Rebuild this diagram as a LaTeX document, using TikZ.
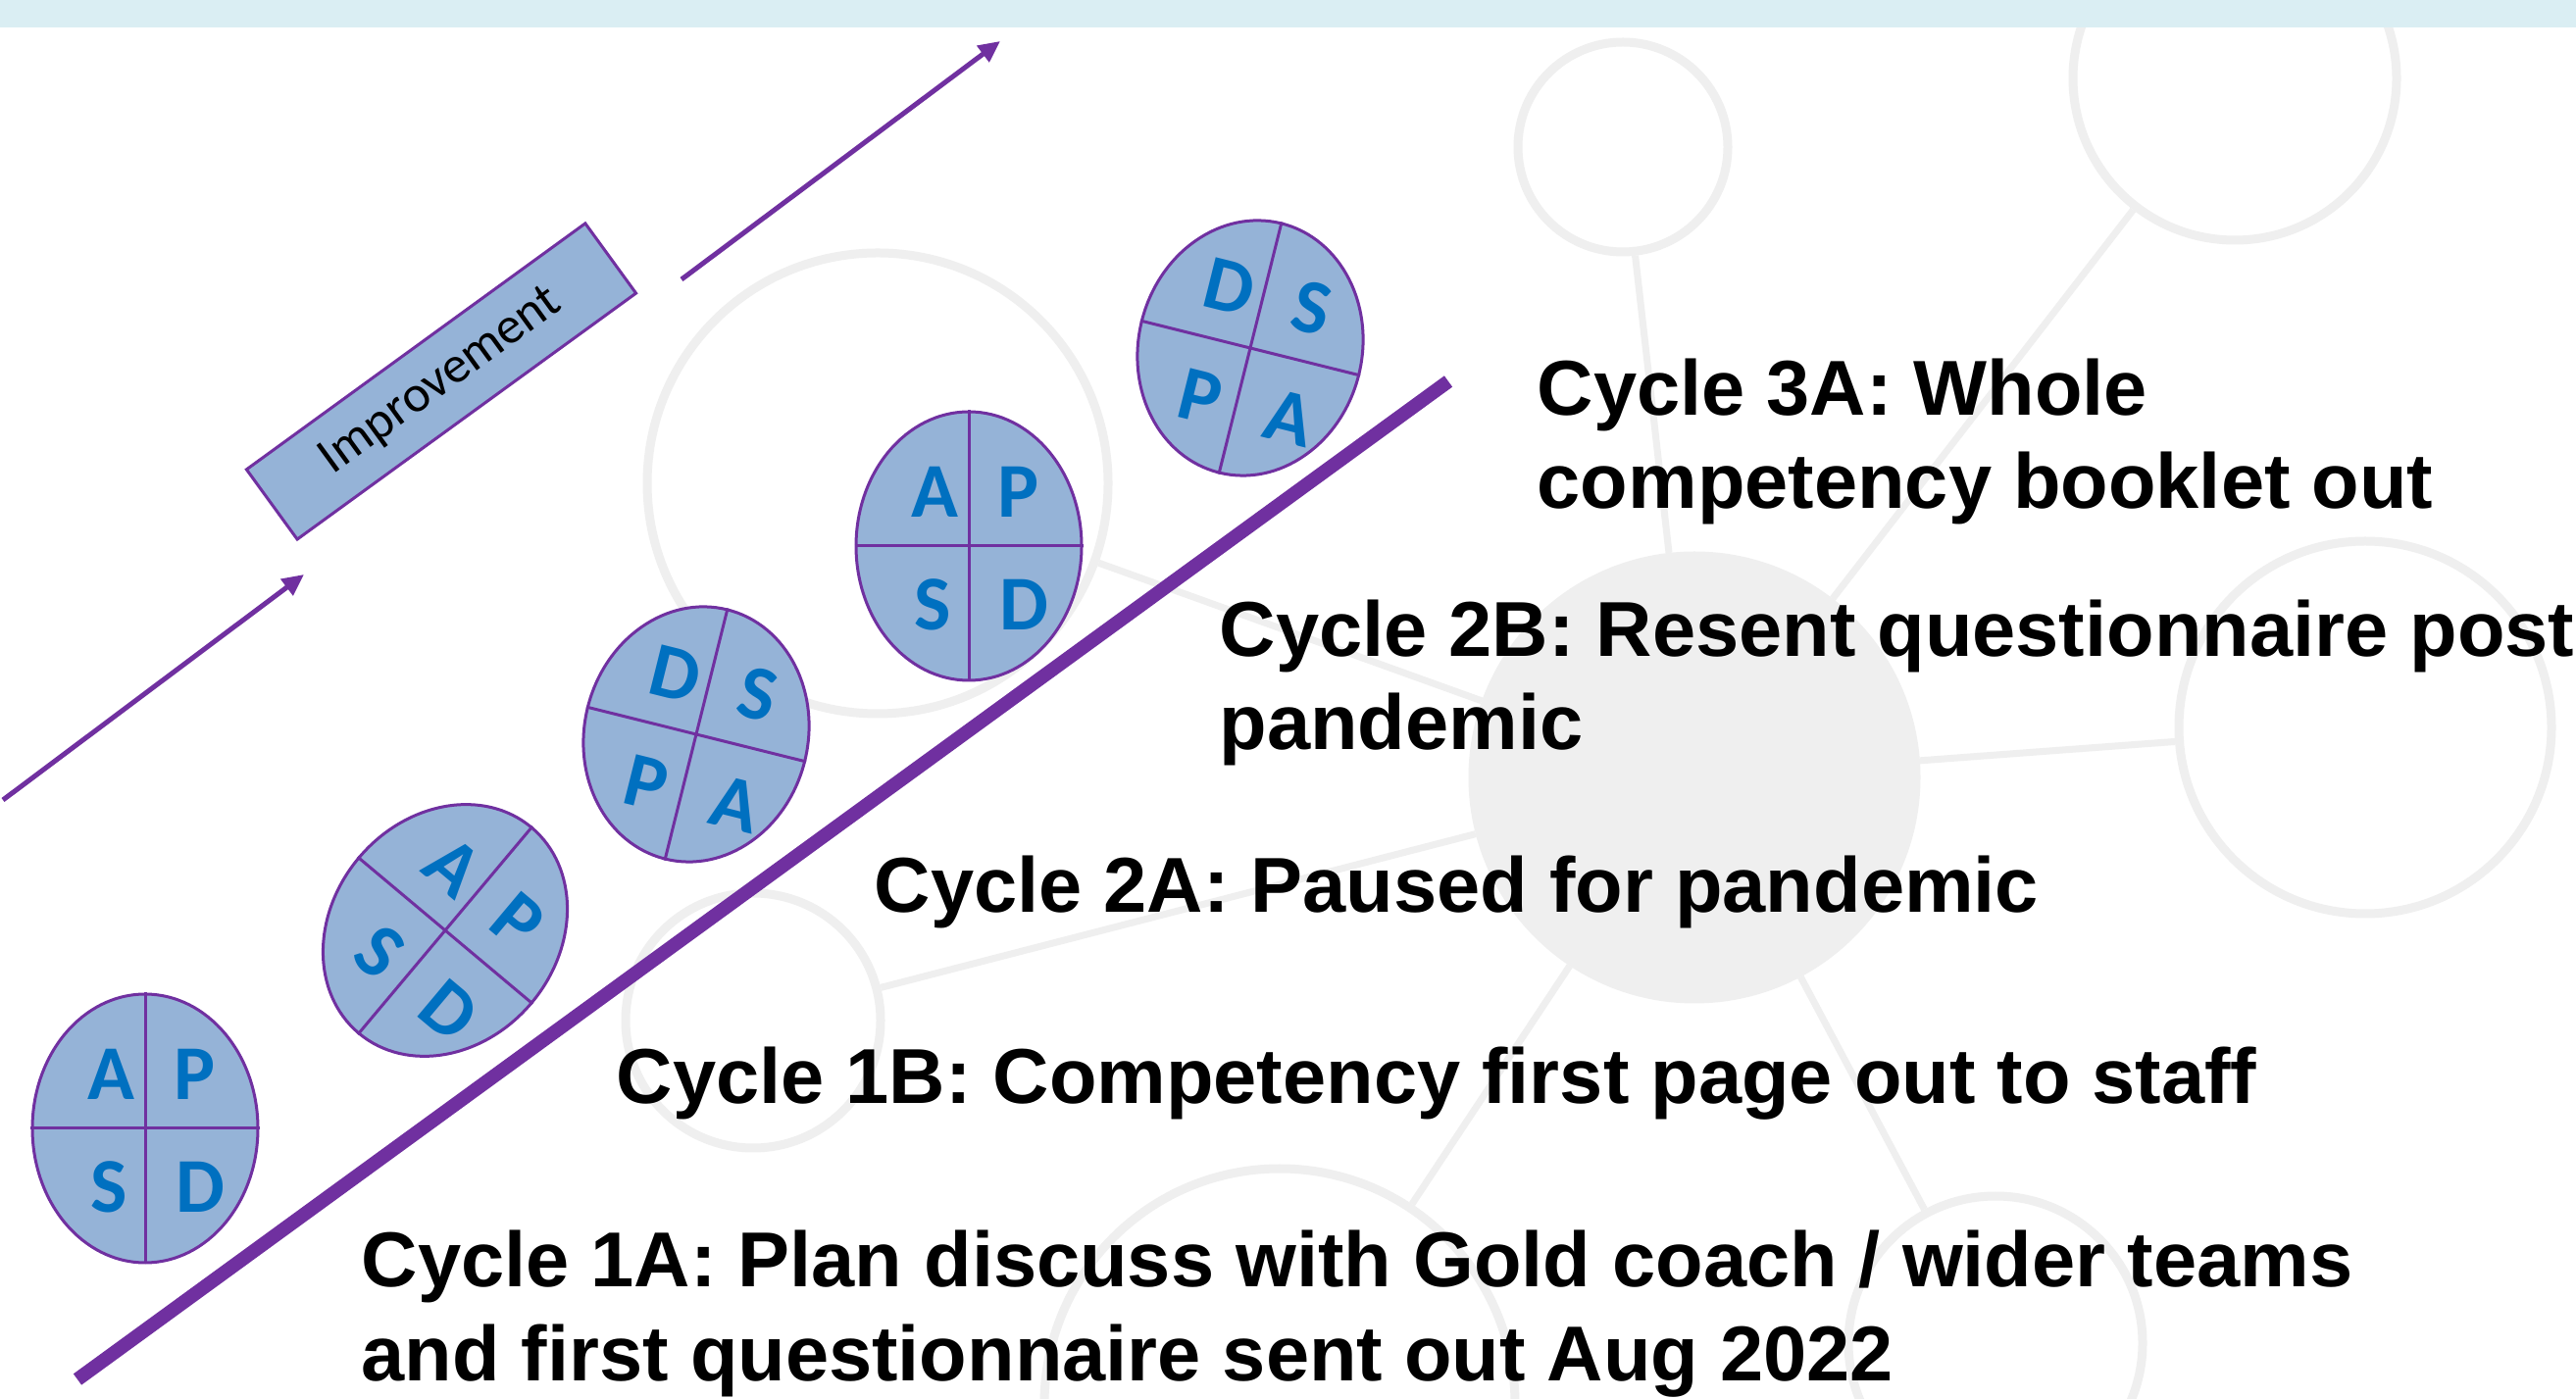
\documentclass[tikz,border=0pt]{standalone}
\usepackage{fontspec}
\setmainfont{Liberation Sans}
\newfontfamily\calibri{Carlito}
\usetikzlibrary{arrows.meta,shapes.geometric,positioning}

\definecolor{cyclepurple}{HTML}{7030A0}
\definecolor{cyclefill}{HTML}{95B3D7}
\definecolor{letterblue}{HTML}{0070C0}
\definecolor{bandblue}{HTML}{DAEEF3}
\definecolor{netgrey}{HTML}{EFEFEF}

% one PDSA disc: [options] name, centre, turn, four letters
\newcommand{\pdsacycle}[8][]{%
	\begin{scope}[shift={(#3)}, rotate=#4, transform shape]
		\node [pdsa, #1] (#2) at (0,0) {};
		\draw [divider] (#2.north) -- (#2.south);
		\draw [divider] (#2.west) -- (#2.east);
		\node [letter] (#2-tl) at (-0.35,0.55) {#5};
		\node [letter] (#2-tr) at (0.51,0.55) {#6};
		\node [letter] (#2-bl) at (-0.37,-0.60) {#7};
		\node [letter] (#2-br) at (0.56,-0.60) {#8};
	\end{scope}}

\begin{document}
\begin{tikzpicture}[netring/.style = {circle, draw=netgrey, line width=0.09cm, inner sep=0pt},
		netlink/.style = {draw=netgrey, line width=0.07cm},
		pdsa/.style = {ellipse, draw=cyclepurple, fill=cyclefill, line width=0.03cm, inner sep=0pt, minimum width=2.3cm, minimum height=2.74cm},
		divider/.style = {draw=cyclepurple, line width=0.03cm},
		letter/.style = {inner sep=0pt, text=letterblue, font=\calibri\bfseries\fontsize{22.5}{26}\selectfont},
		bar/.style = {draw=cyclepurple, line width=0.14cm},
		trend/.style = {draw=cyclepurple, line width=0.05cm, -{Triangle[length=0.22cm, width=0.2cm]}},
		improvebox/.style = {draw=cyclepurple, fill=cyclefill, line width=0.03cm, minimum width=4.27cm, minimum height=0.88cm, inner sep=0pt, font=\calibri\fontsize{15}{18}\selectfont},
		cyclelabel/.style = {anchor=base west, align=left, inner sep=0pt, font=\bfseries\fontsize{22.6}{27.3}\selectfont}, ]
	\useasboundingbox (0,0) rectangle (26.27,14.26);
	\clip (0,0) rectangle (26.27,14.26);
	\fill [white] (0,0) rectangle (26.27,14.26);

	% network in the background
	\node [netring, fill=netgrey, minimum size=4.52cm] (hub) at (17.28,6.33) {};
	\node [netring, minimum size=2.14cm] (nettop) at (16.55,12.76) {};
	\node [netring, minimum size=3.3cm] (nettopright) at (22.79,13.46) {};
	\node [netring, minimum size=3.8cm] (netright) at (24.12,6.84) {};
	\node [netring, minimum size=4.7cm] (netbigleft) at (8.95,9.33) {};
	\node [netring, minimum size=2.6cm] (netsmallleft) at (7.68,3.85) {};
	\node [netring, minimum size=4.8cm] (netbottom) at (13.05,-0.06) {};
	\node [netring, minimum size=3.0cm] (netbottomright) at (20.35,0.56) {};
	\foreach \n in {nettop,nettopright,netright,netbigleft,netsmallleft,netbottom,netbottomright}
		\draw [netlink] (hub) -- (\n);

	\fill [bandblue] (0,13.98) rectangle (26.27,14.26);

	% rising line and arrows
	\coordinate (barstart) at (0.79,0.19);
	\coordinate (barend) at (14.77,10.37);
	\draw [bar] (barstart) -- (barend);
	\coordinate (lowtail) at (0.03,6.10);
	\coordinate (lowtip) at (3.10,8.40);
	\draw [trend] (lowtail) -- (lowtip);
	\coordinate (hightail) at (6.95,11.41);
	\coordinate (hightip) at (10.20,13.84);
	\draw [trend] (hightail) -- (hightip);
	\node [improvebox, rotate=36] (improve) at (4.50,10.37) {Improvement};

	% PDSA discs
	\pdsacycle{cycA}{1.48,2.75}{0}{A}{P}{S}{D}
	\pdsacycle{cycB}{4.54,4.77}{-40}{A}{P}{S}{D}
	\pdsacycle[minimum width=2.28cm, minimum height=2.62cm]{cycC}{7.10,6.77}{-14}{D}{S}{P}{A}
	\pdsacycle{cycD}{9.88,8.69}{0}{A}{P}{S}{D}
	\pdsacycle[minimum width=2.28cm, minimum height=2.62cm]{cycE}{12.75,10.71}{-14}{D}{S}{P}{A}

	% stages (base = last line)
	\node [cyclelabel] (stage3a) at (15.67,9.07) {Cycle 3A: Whole\\competency booklet out};
	\node [cyclelabel] (stage2b) at (12.43,6.61) {Cycle 2B: Resent questionnaire post\\pandemic};
	\node [cyclelabel] (stage2a) at (8.91,4.95) {Cycle 2A: Paused for pandemic};
	\node [cyclelabel] (stage1b) at (6.28,3.00) {Cycle 1B: Competency first page out to staff};
	\node [cyclelabel] (stage1a) at (3.68,0.18) {Cycle 1A: Plan discuss with Gold coach / wider teams\\and first questionnaire sent out Aug 2022};
\end{tikzpicture}
\end{document}
